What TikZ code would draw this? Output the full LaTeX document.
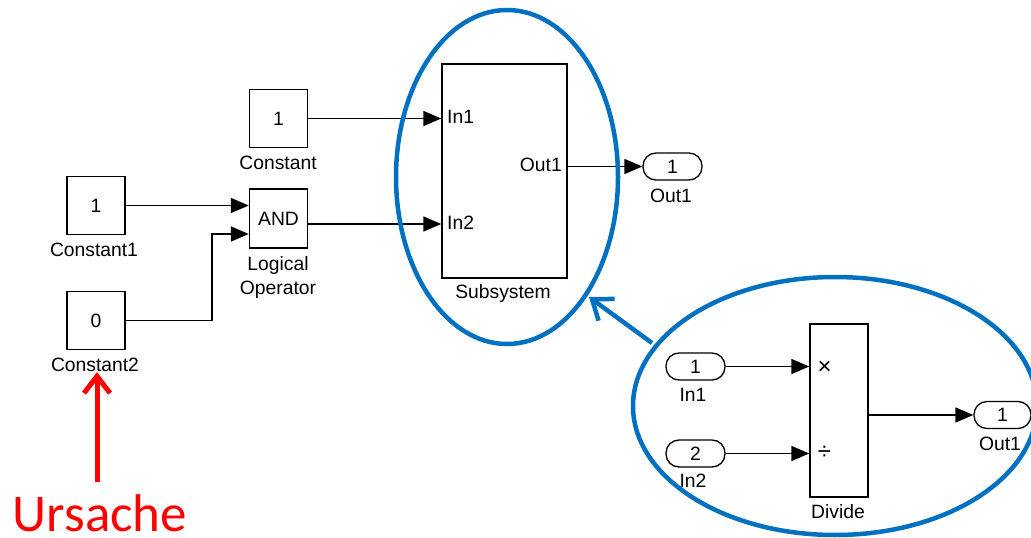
\documentclass[tikz,border=0pt]{standalone}
\usepackage{fontspec}
\setmainfont{Liberation Sans}
\newfontfamily\ursfont{Carlito}
\usetikzlibrary{arrows.meta,shapes.geometric}
\begin{document}
\begin{tikzpicture}[x=1pt,y=-1pt,
  lab/.style={font=\fontsize{19.3}{21}\selectfont, inner sep=0pt},
  blk/.style={draw, line width=1.5pt, minimum width=58pt, minimum height=58pt, inner sep=0pt, font=\fontsize{19.3}{21}\selectfont},
  port/.style={draw, line width=1.3pt, rounded corners=13pt, minimum width=59pt, minimum height=27pt, inner sep=0pt, font=\fontsize{19.3}{21}\selectfont},
  sig/.style={line width=1.7pt, -{Triangle[length=18pt,width=15pt]}},
  ring/.style={draw=ringblue, line width=4.5pt, ellipse, inner sep=0pt},
  ]
\definecolor{ringblue}{RGB}{0,112,192}
\useasboundingbox (0,0) rectangle (1031,538);
% left blocks
\node[blk] (c) at (278.5,118.5) {1};
\node[lab] (cl) at (278,163) {Constant};
\node[blk] (c1) at (96,205.5) {1};
\node[lab] (c1l) at (94,250) {Constant1};
\node[blk] (c2) at (96,320.5) {0};
\node[lab] (c2l) at (95,365) {Constant2};
\node[blk, minimum height=59pt] (and) at (278.5,218.5) {AND};
\node[lab] (andl1) at (278,266) {Logical};
\node[lab] (andl2) at (278,290) {Operator};
% subsystem
\node[draw, line width=1.5pt, minimum width=125pt, minimum height=214pt, inner sep=0pt] (sub) at (504.5,171) {};
\node[lab, anchor=west] (sin1) at (447,117) {In1};
\node[lab, anchor=west] (sin2) at (447,223) {In2};
\node[lab, anchor=east] (sout) at (562,165) {Out1};
\node[lab] (subl) at (503,294) {Subsystem};
\node[port] (pout) at (672.5,166.5) {1};
\node[lab] (poutl) at (671,196) {Out1};
% connectors left
\draw[sig] (c.east) -- (c.east -| sub.west);
\draw[sig] (c1.east) -- (c1.east -| and.west);
\draw[sig] (c2.east) -- (212,320.5) -- (212,234) -- (and.west |- 0,234);
\draw[sig] (and.east |- 0,224) -- (sub.west |- 0,224);
\draw[sig] (sub.east |- 0,166.5) -- (pout.west);
% inner subsystem
\node[port] (in1) at (695.5,366.5) {1};
\node[lab] (in1l) at (693,395) {In1};
\node[port] (in2) at (695.5,453.5) {2};
\node[lab] (in2l) at (693,481) {In2};
\node[draw, line width=1.5pt, minimum width=58pt, minimum height=173pt, inner sep=0pt] (div) at (839,410.5) {};
\node[font=\fontsize{24}{26}\selectfont, inner sep=0pt] (times) at (824.5,368) {×};
\node[font=\fontsize{24}{26}\selectfont, inner sep=0pt] (divs) at (824.5,453) {÷};
\node[lab] (divl) at (838,512) {Divide};
\node[port, minimum width=57pt] (out1) at (1002.5,415) {1};
\node[lab] (out1l) at (1000,444) {Out1};
\draw[sig] (in1.east) -- (in1.east -| div.west);
\draw[sig] (in2.east) -- (in2.east -| div.west);
\draw[sig] (div.east |- 0,415) -- (out1.west);
% rings
\node[ring, minimum width=222pt, minimum height=334pt] (e1) at (507,177) {};
\node[ring, minimum width=404pt, minimum height=258pt] (e2) at (835,406) {};
\coordinate (a1) at (652,343);
\coordinate (a2) at (589,297);
\draw[ringblue, line width=4.5pt, -{Straight Barb[length=18pt,width=27pt]}] (a1) -- (a2);
% cause
\node[font=\ursfont\fontsize{53}{60}\selectfont, text=red, inner sep=0pt] (u) at (100,513) {Ursache};
\coordinate (r1) at (97,482);
\draw[red, line width=5pt, -{Straight Barb[length=17pt,width=26pt]}] (r1) -- (r1 |- c2l.south);
\end{tikzpicture}
\end{document}
